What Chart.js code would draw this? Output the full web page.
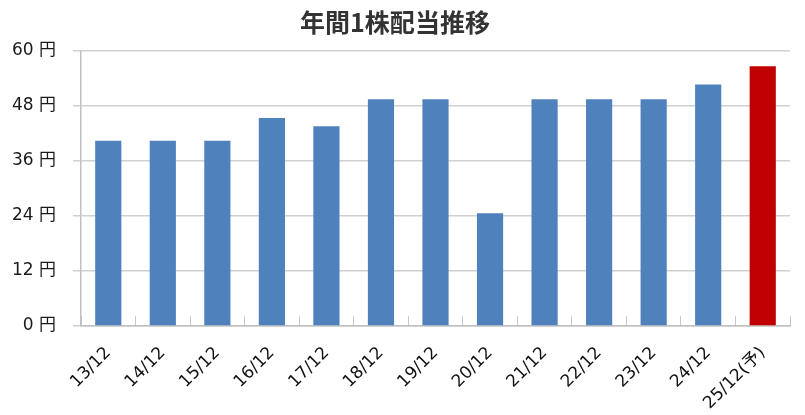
<!DOCTYPE html>
<html>
<head>
<meta charset="utf-8">
<script src="https://cdn.jsdelivr.net/npm/chart.js@4"></script>
<style>
html,body{margin:0;padding:0;background:#fff;}
#wrap{width:805px;height:415px;position:relative;}
</style>
</head>
<body>
<div id="wrap"><canvas id="c"></canvas></div>
<script>
const categories = ["13/12","14/12","15/12","16/12","17/12","18/12","19/12","20/12","21/12","22/12","23/12","24/12","25/12(予)"];
const dividends = [40.4, 40.4, 40.4, 45.4, 43.6, 49.5, 49.5, 24.6, 49.5, 49.5, 49.5, 52.7, 56.7];
const isForecast = [false,false,false,false,false,false,false,false,false,false,false,false,true];
const yTicks = [0, 12, 24, 36, 48, 60];
const titleText = "年間1株配当推移";

const fontFamily = "DejaVu Sans, Noto Sans CJK JP, sans-serif";
const barColors = isForecast.map(f => f ? "#c00000" : "#4f81bd");

new Chart(document.getElementById('c'), {
  type: 'bar',
  data: {
    labels: categories,
    datasets: [{
      data: dividends,
      backgroundColor: barColors,
      borderWidth: 0,
      barPercentage: 0.48,
      categoryPercentage: 1.0
    }]
  },
  options: {
    responsive: true,
    maintainAspectRatio: false,
    animation: false,
    devicePixelRatio: 1,
    layout: { padding: { left: 0, right: 15, top: 0, bottom: 0 } },
    plugins: {
      legend: { display: false },
      tooltip: { enabled: false },
      title: {
        display: true,
        text: titleText,
        color: '#333333',
        font: { family: "Noto Sans CJK JP, sans-serif", size: 25, weight: 'bold' },
        padding: { top: 7, bottom: 14 }
      }
    },
    scales: {
      x: {
        grid: {
          display: true,
          offset: true,
          drawOnChartArea: false,
          drawTicks: true,
          tickLength: -10,
          color: '#c8c8c8',
          lineWidth: 1
        },
        border: { display: true, color: '#c0c0c0', width: 1.5 },
        ticks: {
          color: '#111111',
          font: { family: fontFamily, size: 17 },
          minRotation: 45,
          maxRotation: 45,
          padding: 27,
          autoSkip: false
        },
        afterFit: (s) => { s.height = 89; }
      },
      y: {
        min: 0,
        max: 60,
        afterBuildTicks: (s) => { s.ticks = yTicks.map(v => ({ value: v })); },
        grid: {
          color: '#d0d0d0',
          lineWidth: 1.5,
          drawTicks: true,
          tickLength: 8
        },
        border: { display: true, color: '#c0c0c0', width: 1.5 },
        ticks: {
          color: '#1a1a1a',
          font: { family: fontFamily, size: 17 },
          padding: 17,
          callback: (v) => v + ' 円'
        },
        afterFit: (s) => { s.width = 81; }
      }
    }
  }
});
</script>
</body>
</html>
